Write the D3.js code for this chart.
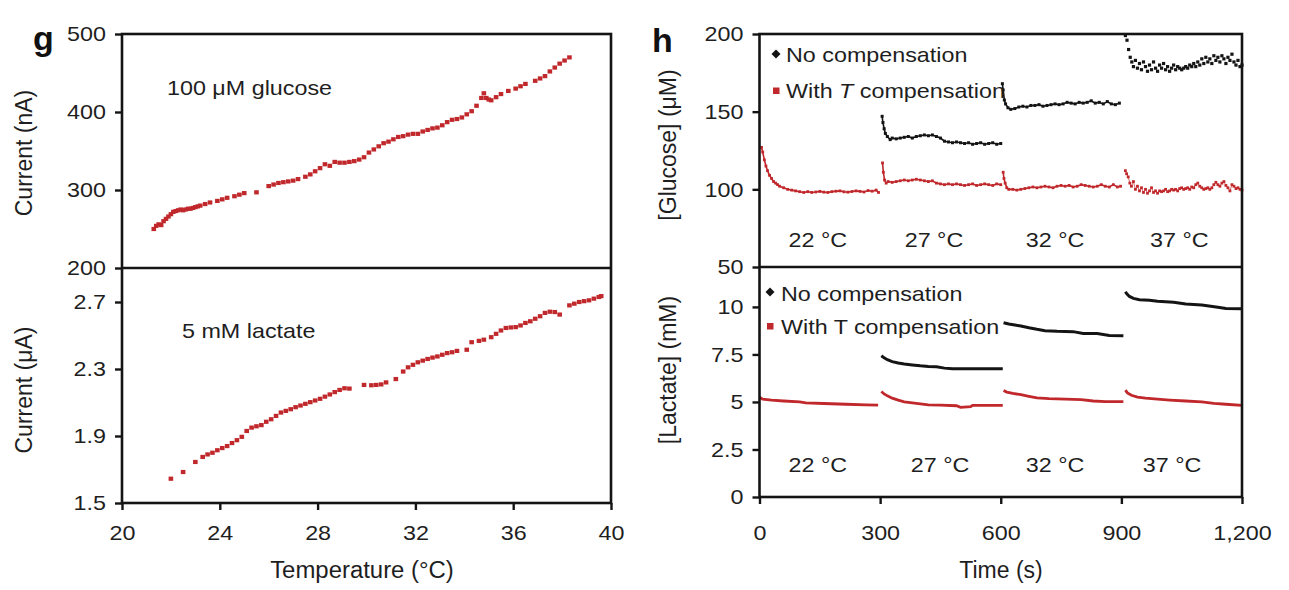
<!DOCTYPE html>
<html>
<head>
<meta charset="utf-8">
<script src="https://cdn.jsdelivr.net/npm/d3@7"></script>
<style>
  html, body { margin: 0; padding: 0; background: #fff; }
  svg { display: block; font-family: "Liberation Sans", Arial, Helvetica, sans-serif; }
</style>
</head>
<body>
<svg id="fig" width="1289" height="590"></svg>
<script>
// Panel g — sensor current against temperature
const glucoseTemp = [21.3, 21.4, 21.5, 21.6, 21.7, 21.8, 21.9, 22.0, 22.1, 22.2, 22.3, 22.4, 22.5, 22.6, 22.7, 22.8, 22.9, 23.0, 23.1, 23.2, 23.4, 23.6, 23.9, 24.1, 24.3, 24.6, 24.8, 25.0, 25.5, 26.0, 26.2, 26.4, 26.6, 26.8, 27.0, 27.2, 27.5, 27.7, 27.9, 28.1, 28.3, 28.5, 28.7, 28.9, 29.1, 29.3, 29.5, 29.7, 29.9, 30.1, 30.3, 30.5, 30.7, 30.9, 31.1, 31.3, 31.5, 31.7, 31.9, 32.1, 32.3, 32.5, 32.7, 32.9, 33.1, 33.3, 33.5, 33.7, 33.9, 34.1, 34.3, 34.5, 34.7, 34.8, 34.9, 35.0, 35.1, 35.3, 35.5, 35.8, 36.1, 36.3, 36.5, 36.9, 37.1, 37.3, 37.5, 37.7, 37.9, 38.1, 38.3];
const glucoseCurrent = [250, 254, 256, 255, 260, 263, 266, 269, 272, 273, 274, 275, 274, 275, 276, 276, 277, 278, 279, 280, 282, 284, 286, 288, 290, 292, 294, 296, 297, 305, 307, 309, 310, 311, 312, 314, 317, 320, 324, 328, 333, 331, 336, 335, 335, 336, 337, 339, 342, 348, 352, 356, 360, 362, 365, 368, 369, 371, 372, 372, 375, 377, 379, 380, 383, 387, 390, 391, 393, 397, 401, 408, 418, 424, 418, 416, 415, 419, 423, 427, 430, 433, 436, 440, 443, 446, 452, 457, 462, 466, 470];

const lactateTemp = [22.0, 22.5, 23.0, 23.3, 23.5, 23.7, 23.9, 24.1, 24.3, 24.5, 24.7, 24.9, 25.1, 25.3, 25.5, 25.7, 25.9, 26.1, 26.3, 26.5, 26.7, 26.9, 27.1, 27.3, 27.5, 27.7, 27.9, 28.1, 28.3, 28.5, 28.7, 28.9, 29.1, 29.3, 29.9, 30.2, 30.4, 30.6, 30.8, 31.2, 31.5, 31.7, 31.9, 32.1, 32.3, 32.5, 32.7, 32.9, 33.1, 33.3, 33.5, 33.7, 34.1, 34.3, 34.6, 34.8, 35.1, 35.3, 35.5, 35.7, 35.9, 36.1, 36.3, 36.5, 36.7, 36.9, 37.1, 37.3, 37.5, 37.7, 37.9, 38.3, 38.5, 38.7, 38.9, 39.1, 39.3, 39.5, 39.6];
const lactateCurrent = [1.645, 1.685, 1.745, 1.775, 1.790, 1.800, 1.815, 1.828, 1.840, 1.858, 1.875, 1.895, 1.930, 1.950, 1.958, 1.965, 1.985, 2.000, 2.020, 2.040, 2.050, 2.060, 2.072, 2.082, 2.092, 2.102, 2.112, 2.122, 2.135, 2.148, 2.162, 2.175, 2.185, 2.183, 2.205, 2.203, 2.205, 2.208, 2.220, 2.240, 2.285, 2.310, 2.325, 2.340, 2.350, 2.360, 2.368, 2.375, 2.385, 2.395, 2.400, 2.408, 2.415, 2.460, 2.468, 2.475, 2.490, 2.510, 2.530, 2.545, 2.548, 2.550, 2.560, 2.575, 2.585, 2.600, 2.615, 2.635, 2.642, 2.640, 2.625, 2.680, 2.690, 2.700, 2.705, 2.710, 2.720, 2.730, 2.735];

// Panel h — [time (s), concentration] per temperature step
const glucComp22 = [[5,127],[8,124],[12,119],[16,115],[20,112],[25,109],[30,107],[35,105],[40,104],[45,103],[50,102],[60,101],[70,100],[80,99.5],[90,99],[100,98.5],[110,98],[120,98.5],[130,98],[140,98.3],[150,98.7],[160,98.2],[170,98],[180,98.5],[190,98.8],[200,99],[210,98.4],[220,98.2],[230,98.6],[240,99],[250,98.7],[260,98.3],[270,99.2],[280,98.8],[290,99.5],[296,98]];
const glucRaw27 = [[305,147],[307,143],[310,139],[313,136],[318,134],[325,132],[330,133],[340,132.5],[350,133],[360,133.5],[370,134],[380,133],[390,134],[400,134.5],[410,135],[420,134.5],[430,135],[440,134],[450,133],[460,131],[470,130.5],[480,130],[490,130.5],[500,130],[510,129.5],[520,130],[530,129],[540,129.5],[550,130],[560,129],[570,129.5],[580,130],[590,129],[600,129.5]];
const glucComp27 = [[306,117],[308,111],[311,106],[315,104],[320,105],[330,104.5],[340,105],[350,105.5],[360,106],[370,105.5],[380,106],[390,106.5],[400,106],[410,105.5],[420,105],[430,105.5],[440,104],[450,103.5],[460,103],[470,103.5],[480,103],[490,103.5],[500,103],[510,102.5],[520,103],[530,103.5],[540,102.5],[550,103],[560,103.5],[570,103],[580,102.5],[590,103.5],[600,103]];
const glucRaw32 = [[604,168],[606,164],[609,157.5],[612,155],[618,152.5],[625,151.5],[635,152],[645,153],[655,153.5],[665,153],[675,154],[685,154],[695,154.5],[705,153.5],[715,154],[725,154.5],[735,155],[745,154.5],[755,155],[765,156],[775,155.5],[785,155],[795,156],[805,155.5],[815,156],[825,157],[835,155.5],[845,156],[855,155],[865,156.5],[875,155],[885,154.5],[895,155.5]];
const glucComp32 = [[606,111],[608,107],[611,104],[615,101],[620,100],[630,100],[640,99.5],[650,100],[660,100.5],[670,101],[680,101.5],[690,101],[700,101.5],[710,102],[720,101.5],[730,101],[740,102],[750,102.5],[760,102],[770,102.5],[780,101.5],[790,102],[800,103],[810,102.5],[820,102],[830,101.5],[840,102],[850,103],[860,102],[870,101.5],[880,103],[890,101.5],[898,102]];
const glucRaw37 = [[910,199],[914,196],[918,190],[922,185],[926,182],[930,179],[935,183],[940,178],[945,181],[950,177],[955,182],[960,179],[965,176],[970,180],[975,177],[980,182],[985,178],[990,176],[995,180],[1000,178],[1005,181],[1010,177],[1015,179],[1020,176],[1025,178],[1030,180],[1035,177],[1040,179],[1045,178],[1050,177],[1055,178],[1060,179],[1065,178],[1070,180],[1075,179],[1080,181],[1085,179],[1090,182],[1095,180],[1100,184],[1105,181],[1110,185],[1115,182],[1120,184],[1125,181],[1130,186],[1135,183],[1140,185],[1145,182],[1150,186],[1155,184],[1160,181],[1165,185],[1170,183],[1175,187],[1180,182],[1185,180],[1190,183],[1195,179],[1200,180]];
const glucComp37 = [[910,112],[913,110],[917,108],[921,104],[925,102],[930,105],[935,100],[940,102],[945,99],[950,101],[955,98],[960,100],[965,97.5],[970,99],[975,101],[980,98],[985,99],[990,97.5],[995,99],[1000,98.5],[1005,99],[1010,100],[1015,98.5],[1020,99],[1025,100],[1030,99.5],[1035,100],[1040,99],[1045,100.5],[1050,101],[1055,100],[1060,100.5],[1065,101],[1070,100],[1075,101.5],[1080,101],[1085,103],[1090,104],[1095,102],[1100,101],[1105,100],[1110,100.5],[1115,101],[1120,100],[1125,101],[1130,103],[1135,104.5],[1140,103],[1145,102],[1150,104],[1155,105],[1160,102.5],[1165,101],[1170,99],[1175,103],[1180,102],[1185,100.5],[1190,101],[1195,100],[1200,99.5]];

const lactComp22 = [[0,5.25],[8,5.15],[30,5.1],[60,5.05],[100,5.0],[115,4.95],[160,4.92],[215,4.88],[265,4.85],[295,4.83]];
const lactRaw27 = [[303,7.43],[310,7.32],[318,7.22],[330,7.12],[345,7.05],[360,7.0],[380,6.95],[400,6.9],[420,6.87],[440,6.85],[460,6.78],[480,6.75],[520,6.75],[560,6.75],[605,6.75]];
const lactComp27 = [[303,5.55],[310,5.42],[318,5.32],[330,5.2],[345,5.1],[360,5.0],[380,4.95],[400,4.9],[420,4.85],[450,4.83],[490,4.8],[500,4.72],[525,4.75],[530,4.82],[560,4.82],[605,4.82]];
const lactRaw32 = [[607,9.17],[620,9.1],[635,9.05],[650,9.0],[670,8.9],[690,8.82],[710,8.75],[740,8.72],[780,8.7],[805,8.6],[840,8.6],[870,8.5],[905,8.48]];
const lactComp32 = [[607,5.6],[615,5.52],[630,5.45],[650,5.38],[670,5.3],[690,5.22],[720,5.18],[760,5.15],[800,5.12],[830,5.05],[860,5.02],[905,5.02]];
const lactRaw37 = [[910,10.8],[913,10.7],[920,10.55],[930,10.45],[945,10.38],[970,10.35],[990,10.3],[1030,10.25],[1060,10.15],[1100,10.1],[1140,9.98],[1160,9.92],[1200,9.9]];
const lactComp37 = [[910,5.62],[915,5.48],[925,5.35],[940,5.25],[960,5.2],[990,5.15],[1020,5.1],[1060,5.05],[1100,5.0],[1130,4.93],[1160,4.88],[1200,4.82]];

// Tick values and labels
const tempTicks = [20, 24, 28, 32, 36, 40];
const glucCurrentTicks = [200, 300, 400, 500];
const lactCurrentTicks = [1.5, 1.9, 2.3, 2.7];
const timeTicks = [0, 300, 600, 900, 1200];
const glucConcTicks = [50, 100, 150, 200];
const lactConcTicks = [0, 2.5, 5, 7.5, 10];
const stepLabels = ["22 °C", "27 °C", "32 °C", "37 °C"];
const stepLabelTimeTop = [145, 434, 735, 1044];
const stepLabelTimeBottom = [145, 449, 735, 1026];

const svg = d3.select("#fig");
const RED = "#c0282c";
const INK = "#141414";
const TXT = "#1e1e1e";

// Stretch text horizontally (the source figure is slightly widened)
function stretch(sel, k) {
  sel.each(function () {
    const w = this.getComputedTextLength();
    d3.select(this).attr("textLength", w * k).attr("lengthAdjust", "spacingAndGlyphs");
  });
}

function styleAxis(ax) {
  ax.select(".domain").remove();
  ax.selectAll("line").attr("stroke", INK).attr("stroke-width", 2.4);
  ax.selectAll("text").attr("fill", TXT).style("font-size", "21px");
}

// Frame, divider and the axes of one two-stack panel
function drawFrame(x, yT, yB, opts) {
  const [x0, x1] = x.range();
  const top = yT.range()[1], mid = yT.range()[0], bot = yB.range()[0];

  const ax1 = svg.append("g").attr("transform", `translate(${x0},0)`)
    .call(d3.axisLeft(yT).tickValues(opts.yTTicks).tickFormat(opts.yTFmt).tickSize(7).tickSizeOuter(0).tickPadding(9));
  const ax2 = svg.append("g").attr("transform", `translate(${x0},0)`)
    .call(d3.axisLeft(yB).tickValues(opts.yBTicks).tickFormat(opts.yBFmt).tickSize(7).tickSizeOuter(0).tickPadding(9));
  const ax3 = svg.append("g").attr("transform", `translate(0,${bot})`)
    .call(d3.axisBottom(x).tickValues(opts.xTicks).tickFormat(opts.xFmt).tickSize(7).tickSizeOuter(0));
  [ax1, ax2, ax3].forEach(styleAxis);
  ax3.selectAll("text").attr("dy", null).attr("y", 540 - bot);
  [ax1, ax2, ax3].forEach((a) => stretch(a.selectAll("text"), 1.11));

  svg.append("rect").attr("x", x0).attr("y", top).attr("width", x1 - x0).attr("height", bot - top)
    .attr("fill", "none").attr("stroke", INK).attr("stroke-width", 2.6);
  svg.append("line").attr("x1", x0).attr("x2", x1).attr("y1", mid).attr("y2", mid)
    .attr("stroke", INK).attr("stroke-width", 2.4);
}

function addText(x, y, str, size, anchor, k) {
  const t = svg.append("text").attr("x", x).attr("y", y).attr("fill", TXT)
    .attr("text-anchor", anchor || "start").style("font-size", size + "px").text(str);
  if (k) stretch(t, k);
  return t;
}

function addVText(x, y, str) {
  svg.append("text").attr("transform", `translate(${x},${y}) rotate(-90)`)
    .attr("text-anchor", "middle").attr("fill", TXT).style("font-size", "23px").text(str);
}

// ---------- panel g ----------
const xG = d3.scaleLinear().domain([20, 40]).range([122, 611]);
const yGTop = d3.scaleLinear().domain([200, 500]).range([268, 34]);
const yGBot = d3.scaleLinear().domain([1.5, 2.903]).range([503, 268]);

const glucosePts = glucoseTemp.map((t, i) => [t, glucoseCurrent[i]]);
const lactatePts = lactateTemp.map((t, i) => [t, lactateCurrent[i]]);

svg.append("g").selectAll("rect").data(glucosePts).join("rect")
  .attr("x", (d) => xG(d[0]) - 2.3).attr("y", (d) => yGTop(d[1]) - 2.1)
  .attr("width", 4.6).attr("height", 4.2).attr("fill", RED);
svg.append("g").selectAll("rect").data(lactatePts).join("rect")
  .attr("x", (d) => xG(d[0]) - 2.3).attr("y", (d) => yGBot(d[1]) - 2.1)
  .attr("width", 4.6).attr("height", 4.2).attr("fill", RED);

drawFrame(xG, yGTop, yGBot, {
  xTicks: tempTicks, xFmt: d3.format("d"),
  yTTicks: glucCurrentTicks, yTFmt: d3.format("d"),
  yBTicks: lactCurrentTicks, yBFmt: d3.format(".1f"),
});

addText(167, 95, "100 μM glucose", 21, "start", 1.11);
addText(182, 338, "5 mM lactate", 21, "start", 1.11);
addVText(32, 153, "Current (nA)");
addVText(32, 390, "Current (μA)");
addText(362, 578, "Temperature (°C)", 23, "middle", 1.04);
svg.append("text").attr("x", 33).attr("y", 50).attr("fill", "#111")
  .style("font-size", "34px").style("font-weight", "bold").text("g");

// ---------- panel h ----------
const xH = d3.scaleLinear().domain([0, 1200]).range([759.5, 1242]);
const yHTop = d3.scaleLinear().domain([50, 200]).range([267, 34]);
const yHBot = d3.scaleLinear().domain([0, 12.1]).range([497, 267]);

function dottedSeries(data, y, color, width, dot) {
  if (width > 0) {
    svg.append("path").datum(data)
      .attr("d", d3.line().x((d) => xH(d[0])).y((d) => y(d[1])))
      .attr("fill", "none").attr("stroke", color).attr("stroke-width", width);
  }
  svg.append("g").selectAll("rect").data(data).join("rect")
    .attr("x", (d) => xH(d[0]) - dot / 2).attr("y", (d) => y(d[1]) - dot / 2)
    .attr("width", dot).attr("height", dot).attr("fill", color);
}

[glucRaw27, glucRaw32].forEach((s) => dottedSeries(s, yHTop, INK, 1.6, 3));
dottedSeries(glucRaw37, yHTop, INK, 0, 3.2);
[glucComp22, glucComp27, glucComp32].forEach((s) => dottedSeries(s, yHTop, RED, 1.6, 2.8));
dottedSeries(glucComp37, yHTop, RED, 0.7, 2.8);

const lactLine = d3.line().x((d) => xH(d[0])).y((d) => yHBot(d[1]));
[lactRaw27, lactRaw32, lactRaw37].forEach((s) => {
  svg.append("path").datum(s).attr("d", lactLine)
    .attr("fill", "none").attr("stroke", INK).attr("stroke-width", 3);
});
[lactComp22, lactComp27, lactComp32, lactComp37].forEach((s) => {
  svg.append("path").datum(s).attr("d", lactLine)
    .attr("fill", "none").attr("stroke", RED).attr("stroke-width", 2.8);
});

drawFrame(xH, yHTop, yHBot, {
  xTicks: timeTicks, xFmt: d3.format(","),
  yTTicks: glucConcTicks, yTFmt: d3.format("d"),
  yBTicks: lactConcTicks, yBFmt: (v) => String(v),
});

stepLabels.forEach((s, i) => {
  addText(xH(stepLabelTimeTop[i]), 247, s, 21, "middle", 1.11);
  addText(xH(stepLabelTimeBottom[i]), 472, s, 21, "middle", 1.11);
});

// legends: diamond = rotated square
function diamondMark(cx, cy) {
  svg.append("rect").attr("x", -3.2).attr("y", -3.2).attr("width", 6.4).attr("height", 6.4)
    .attr("transform", `translate(${cx},${cy}) rotate(45)`).attr("fill", INK);
}
diamondMark(776, 54);
addText(786, 62, "No compensation", 21, "start", 1.11);
svg.append("rect").attr("x", 773).attr("y", 87.5).attr("width", 6.5).attr("height", 6.5).attr("fill", RED);
const wT = svg.append("text").attr("x", 786).attr("y", 98).attr("fill", TXT).style("font-size", "21px");
wT.append("tspan").text("With ");
wT.append("tspan").style("font-style", "italic").text("T");
wT.append("tspan").text(" compensation");
stretch(wT, 1.11);

diamondMark(770, 292);
addText(781, 301, "No compensation", 21, "start", 1.11);
svg.append("rect").attr("x", 767).attr("y", 323).attr("width", 6.5).attr("height", 6.5).attr("fill", RED);
addText(781, 334, "With T compensation", 21, "start", 1.11);

addVText(676, 145, "[Glucose] (μM)");
addVText(676, 370, "[Lactate] (mM)");
addText(1001, 578, "Time (s)", 23, "middle");
svg.append("text").attr("x", 652).attr("y", 52).attr("fill", "#111")
  .style("font-size", "34px").style("font-weight", "bold").text("h");
</script>
</body>
</html>
